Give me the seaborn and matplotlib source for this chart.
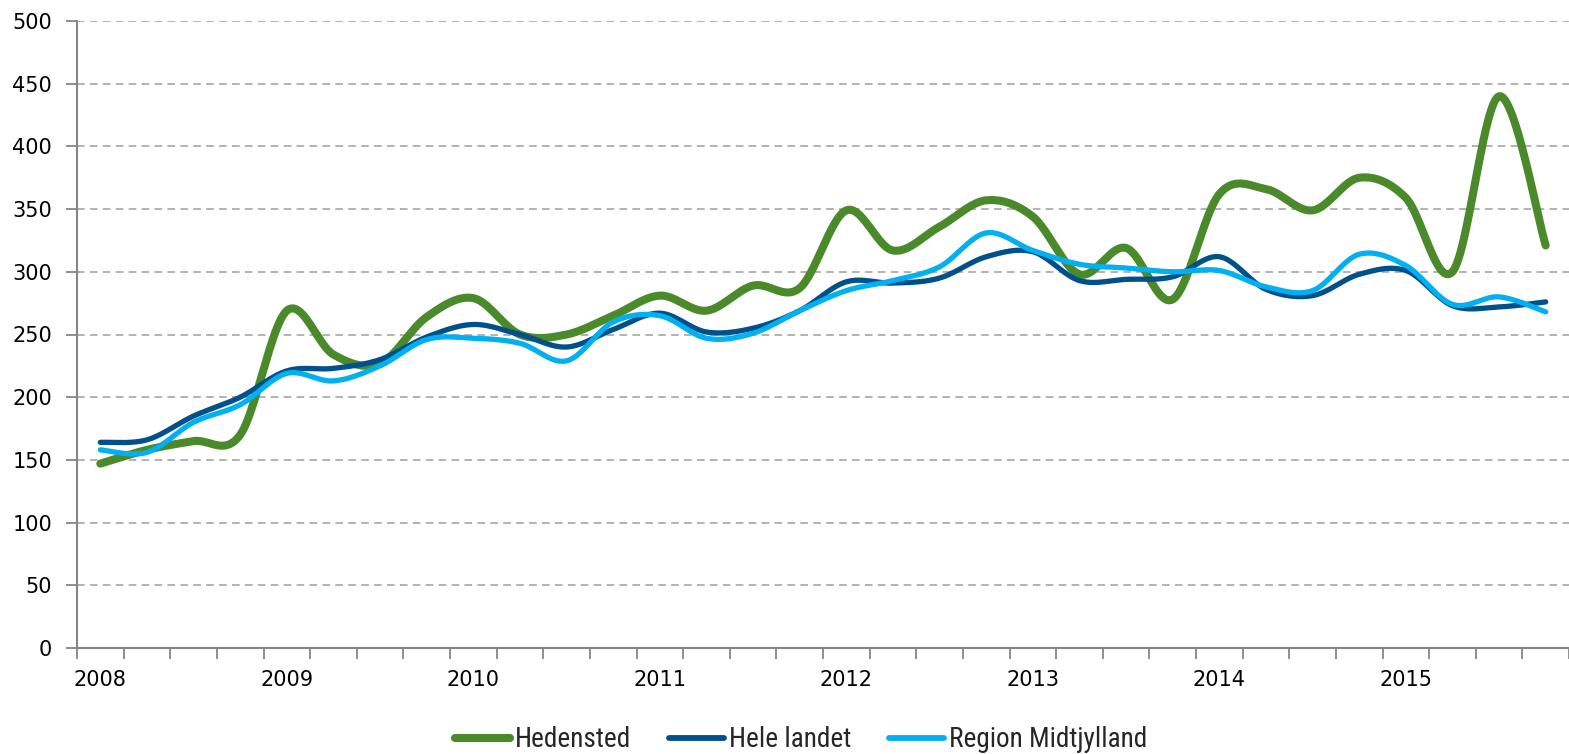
import numpy as np
import pandas as pd
import matplotlib
matplotlib.use("Agg")
import matplotlib.pyplot as plt
import seaborn as sns
from matplotlib.lines import Line2D
from matplotlib import font_manager

# ---------------- data ----------------
years = ["2008", "2009", "2010", "2011", "2012", "2013", "2014", "2015"]
quarters_per_year = 4

hedensted = [147, 158, 165, 170, 269, 234, 227, 264, 279, 250, 250, 265,
             281, 269, 289, 287, 349, 317, 336, 357, 344, 298, 319, 278,
             362, 366, 349, 375, 359, 300, 440, 321]
hele_landet = [164, 166, 185, 200, 221, 223, 230, 248, 258, 250, 240, 254,
               267, 252, 255, 269, 292, 291, 295, 312, 316, 293, 294, 296,
               312, 286, 281, 298, 301, 273, 272, 276]
region_midt = [158, 156, 180, 194, 219, 213, 225, 246, 247, 243, 229, 260,
               265, 247, 251, 269, 285, 293, 304, 331, 317, 306, 303, 300,
               301, 288, 285, 314, 305, 274, 280, 268]

series_names = ["Hedensted", "Hele landet", "Region Midtjylland"]
series_values = [hedensted, hele_landet, region_midt]
colors = ["#4A8A2A", "#00508C", "#00B0F0"]
widths = [5.8, 3.8, 3.8]


def smooth(y, n=24):
    """Excel-style smoothed line (cubic Bezier, 1/6 tension)."""
    y = np.asarray(y, float)
    x = np.arange(len(y), dtype=float)
    pts = np.column_stack([x, y])
    ext = np.vstack([pts[0], pts, pts[-1]])
    out = []
    t = np.linspace(0, 1, n, endpoint=False)[:, None]
    for i in range(len(pts) - 1):
        p0, p3 = ext[i + 1], ext[i + 2]
        c1 = p0 + (ext[i + 2] - ext[i]) / 6
        c2 = p3 - (ext[i + 3] - ext[i + 1]) / 6
        seg = ((1 - t) ** 3) * p0 + 3 * ((1 - t) ** 2) * t * c1 + 3 * (1 - t) * t ** 2 * c2 + t ** 3 * p3
        out.append(seg)
    out.append(pts[-1][None, :])
    out = np.vstack(out)
    return out[:, 0], out[:, 1]


def pick_font(cands):
    for f in cands:
        try:
            font_manager.findfont(font_manager.FontProperties(family=f), fallback_to_default=False)
            return f
        except Exception:
            continue
    return "DejaVu Sans"


legend_font = pick_font(["Liberation Sans Narrow", "Roboto Condensed", "Open Sans Condensed", "Lato"])
narrow = legend_font in ("Liberation Sans Narrow", "Roboto Condensed", "Open Sans Condensed")
legend_size = 19.6 if narrow else 18.5

sns.set_theme(style="white")
plt.rcParams["font.family"] = ["DejaVu Sans"]
plt.rcParams["lines.scale_dashes"] = False

W, H = 1569, 754
fig = plt.figure(figsize=(W / 100, H / 100), dpi=100)
left_px, right_px, top_px, bottom_px = 77, 1569, 21, 648
ax = fig.add_axes([left_px / W, 1 - bottom_px / H, (right_px - left_px) / W, (bottom_px - top_px) / H])

unit = 46.75
ax.set_xlim(-0.5, -0.5 + (right_px - left_px) / unit)
ax.set_ylim(0, 500)

# grid
for v in range(50, 501, 50):
    ax.axhline(v, color="#A6A6A6", lw=1.2, ls=(0, (5.5, 3.8)), zorder=0)

for name, vals, c, lw in zip(series_names, series_values, colors, widths):
    sx, sy = smooth(vals)
    df = pd.DataFrame({"x": sx, "y": sy})
    sns.lineplot(data=df, x="x", y="y", sort=False, color=c, lw=lw, ax=ax,
                 solid_capstyle="round", solid_joinstyle="round", zorder=3, legend=False)

# axes styling
for s in ["top", "right"]:
    ax.spines[s].set_visible(False)
for s in ["left", "bottom"]:
    ax.spines[s].set_color("#868686")
    ax.spines[s].set_linewidth(1.5)

ax.set_yticks(range(0, 501, 50))
ax.tick_params(axis="y", length=8, width=1.3, color="#868686", pad=10,
               labelsize=15, labelcolor="black", left=True, direction="out")

n = len(hedensted)
ax.set_xticks([i * quarters_per_year for i in range(len(years))])
ax.set_xticklabels(years)
ax.set_xticks(np.arange(-0.5, n + 0.5, 1), minor=True)
ax.tick_params(axis="x", which="major", length=0, pad=16, labelsize=15, labelcolor="black")
ax.tick_params(axis="x", which="minor", length=8, width=1.3, color="#868686", bottom=True, direction="out")
ax.set_xlabel("")
ax.set_ylabel("")

fs_px = legend_size * 100 / 72
handles = [Line2D([0], [0], color=c, lw=w, solid_capstyle="round") for c, w in zip(colors, [5.8, 4.2, 4.2])]
leg = fig.legend(handles, series_names, loc="center", bbox_to_anchor=(0.5107, 0.019), ncol=3,
                 frameon=False, handlelength=55 / fs_px, handletextpad=5 / fs_px,
                 columnspacing=38 / fs_px, borderpad=0, borderaxespad=0,
                 prop={"family": [legend_font, "DejaVu Sans"], "size": legend_size})

fig.savefig("out.png", dpi=100)
